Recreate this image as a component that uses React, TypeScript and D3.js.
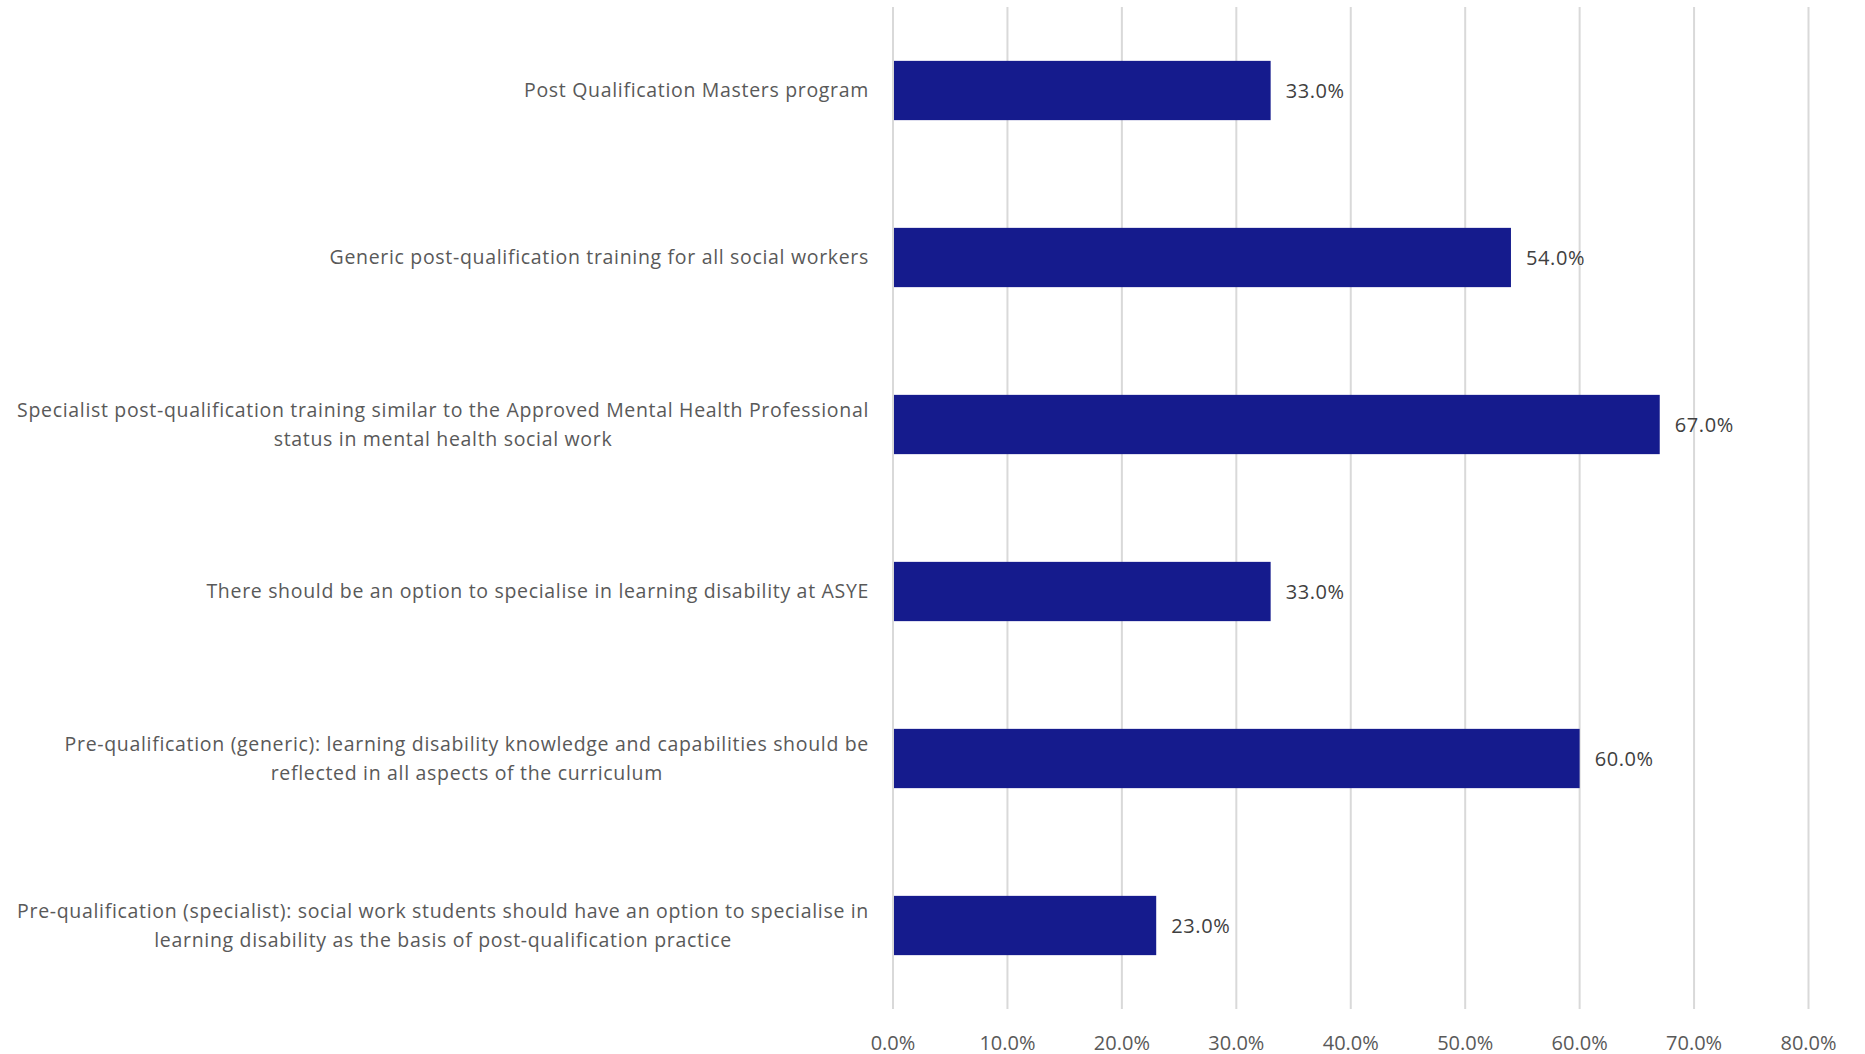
import React, { useEffect, useRef } from "react";
import * as d3 from "d3";

const categories: string[][] = [
  ["Post Qualification Masters program"],
  ["Generic post-qualification training for all social workers"],
  ["Specialist post-qualification training similar to the Approved Mental Health Professional", "status in mental health social work"],
  ["There should be an option to specialise in learning disability at ASYE"],
  ["Pre-qualification (generic): learning disability knowledge and capabilities should be", "reflected in all aspects of the curriculum"],
  ["Pre-qualification (specialist): social work students should have an option to specialise in", "learning disability as the basis of post-qualification practice"],
];
const values: number[] = [0.33, 0.54, 0.67, 0.33, 0.6, 0.23];
const ticks: number[] = [0, 0.1, 0.2, 0.3, 0.4, 0.5, 0.6, 0.7, 0.8];

const W = 1865;
const H = 1054;
const FONT = "'Open Sans', Lato, sans-serif";

export default function App() {
  const ref = useRef<SVGSVGElement>(null);
  useEffect(() => {
    const svg = d3.select(ref.current);
    svg.selectAll("*").remove();
    const x = d3.scaleLinear().domain([0, 0.8]).range([893, 1808.5]);
    const y = d3.scaleBand<number>().domain(d3.range(categories.length)).range([7, 1009]).paddingInner(0.645).paddingOuter(0.3225);
    const fmt = d3.format(".1%");

    svg.append("g").selectAll("line").data(ticks).join("line")
      .attr("x1", (d) => x(d)).attr("x2", (d) => x(d))
      .attr("y1", 7).attr("y2", 1009)
      .attr("stroke", "#d9d9d9").attr("stroke-width", 2);

    svg.append("g").selectAll("text").data(ticks).join("text")
      .attr("x", (d) => x(d)).attr("y", 1042)
      .attr("text-anchor", "middle").attr("dominant-baseline", "central")
      .attr("font-family", FONT).attr("font-size", 20).attr("fill", "#595959")
      .text((d) => fmt(d));

    const bw = y.bandwidth();
    svg.append("g").selectAll("rect").data(values).join("rect")
      .attr("x", x(0) + 1).attr("y", (_, i) => y(i)!)
      .attr("width", (d) => x(d) - x(0) - 1).attr("height", bw)
      .attr("fill", "#151B8D");

    svg.append("g").selectAll("text").data(values).join("text")
      .attr("x", (d) => x(d) + 15).attr("y", (_, i) => y(i)! + bw / 2)
      .attr("dominant-baseline", "central")
      .attr("font-family", FONT).attr("font-size", 20).attr("letter-spacing", 0.6).attr("fill", "#404040")
      .text((d) => fmt(d));

    const lab = svg.append("g");
    categories.forEach((lines, i) => {
      const cy = y(i)! + bw / 2;
      const g = lab.append("g");
      const texts = lines.map((l, j) =>
        g.append("text")
          .attr("y", cy + (j - (lines.length - 1) / 2) * 29 - 1)
          .attr("dominant-baseline", "central")
          .attr("text-anchor", "middle")
          .attr("font-family", FONT).attr("font-size", 19.5).attr("letter-spacing", 0.68).attr("fill", "#595959")
          .text(l)
      );
      const maxW = d3.max(texts, (t) => (t.node() as SVGTextElement).getComputedTextLength()) || 0;
      texts.forEach((t) => t.attr("x", 869 - maxW / 2));
    });
  }, []);
  return (
    <svg ref={ref} width={W} height={H} style={{ position: "absolute", left: 0, top: 0, background: "#fff" }} />
  );
}
